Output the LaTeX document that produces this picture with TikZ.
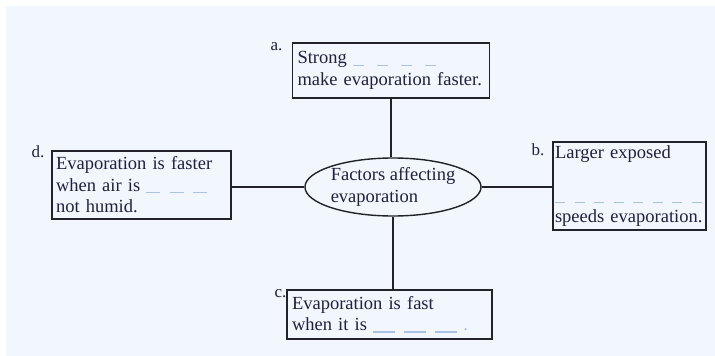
\documentclass[tikz,border=0pt]{standalone}
\usepackage{fontspec}
\setmainfont{Liberation Serif}
\usetikzlibrary{shapes.geometric}

\definecolor{bgblue}{HTML}{F1F7FC}
\definecolor{inkblue}{HTML}{202040}
\definecolor{blankblue}{HTML}{A9C1E2}
\definecolor{edgegray}{HTML}{22222A}

% #1 period, #2 dash length, #3 number of periods before the last dash
\newcommand{\fillin}[3]{\textcolor{blankblue}{\cleaders\hbox to #1pt{\rule[-2pt]{#2pt}{1.4pt}\hfil}\hskip\dimexpr#1pt*#3\relax\rule[-2pt]{#2pt}{1.4pt}}}

\begin{document}
\begin{tikzpicture}[x=1pt, y=-1pt,
      font=\fontsize{18.5pt}{21.5pt}\selectfont, text=inkblue,
      factbox/.style={rectangle, draw=edgegray, line width=1.4pt, align=left},
      hub/.style={ellipse, draw=edgegray, line width=1.4pt, inner sep=0pt, align=left,
        minimum width=172pt, minimum height=58pt},
      tag/.style={anchor=base west, font=\fontsize{17pt}{20pt}\selectfont},
      link/.style={draw=edgegray, line width=1.4pt}]

      \useasboundingbox (0,0) rectangle (715,356);
      \fill[white] (0,0) rectangle (715,356);
      \fill[bgblue] (6,6) rectangle (715,356);

      \node[hub] (factors) at (393,187) {Factors affecting\\evaporation};

      \node[factbox, minimum width=197pt, minimum height=55pt, inner xsep=5pt, text width=187pt]
        (wind) at (391,70.5) {Strong \fillin{24}{11}{3}\\make evaporation faster.};
      \node[factbox, minimum width=153pt, minimum height=68pt, inner xsep=2pt, text width=149pt]
        (area) at (629.5,186) {Larger exposed\\\null\fillin{19.5}{10}{7}\\speeds evaporation.};
      \node[factbox, minimum width=205pt, minimum height=49pt, inner xsep=5pt, text width=195pt]
        (heat) at (389.5,314.5) {Evaporation is fast\\when it is \fillin{31}{22}{2} \textcolor{blankblue}{.}};
      \node[factbox, minimum width=179pt, minimum height=68pt, inner xsep=4pt, text width=171pt]
        (dry) at (141.5,185) {Evaporation is faster\\when air is \fillin{23.5}{14}{2}\\not humid.};

      % Letters
      \node[tag] (taga) at (267,50) {a.};
      \node[tag] (tagb) at (528,155) {b.};
      \node[tag] (tagc) at (271,297) {c.};
      \node[tag] (tagd) at (28,157) {d.};

      % Connectors
      \draw[link] (wind.south) -- (wind.south |- factors.north);
      \draw[link] (factors.south) -- (factors.south |- heat.north);
      \draw[link] (factors.west) -- (factors.west -| dry.east);
      \draw[link] (factors.east) -- (factors.east -| area.west);
    \end{tikzpicture}
\end{document}
